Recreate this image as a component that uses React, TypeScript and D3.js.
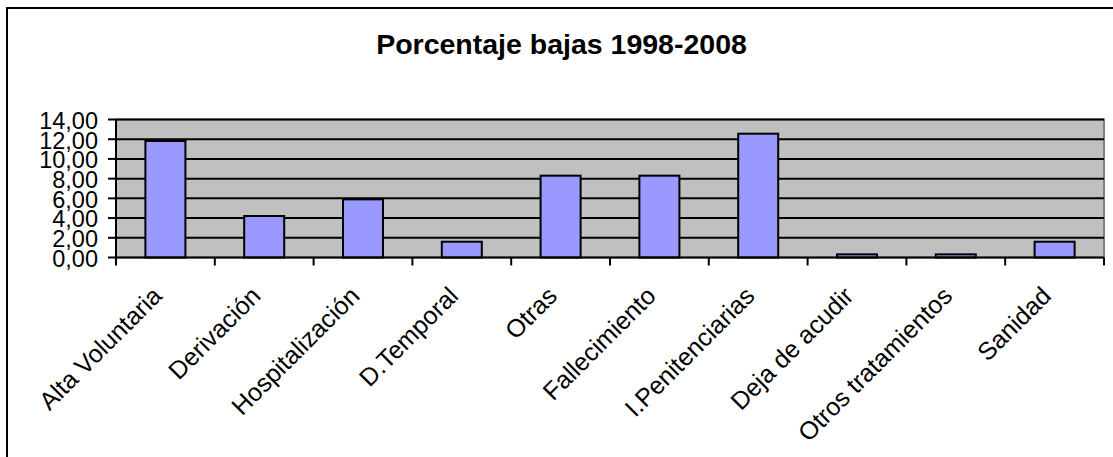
import React, { useEffect, useRef } from 'react';
import * as d3 from 'd3';

const categories = [
  'Alta Voluntaria',
  'Derivación',
  'Hospitalización',
  'D.Temporal',
  'Otras',
  'Fallecimiento',
  'I.Penitenciarias',
  'Deja de acudir',
  'Otros tratamientos',
  'Sanidad',
];
const values = [11.82, 4.21, 5.9, 1.6, 8.3, 8.3, 12.56, 0.32, 0.32, 1.6];
const yTicks = [0, 2, 4, 6, 8, 10, 12, 14];
const title = 'Porcentaje bajas 1998-2008';

const App = () => {
  const svgRef = useRef<SVGSVGElement>(null);

  useEffect(() => {
    const svg = d3.select(svgRef.current);
    svg.selectAll('*').remove();

    const left = 116;
    const right = 1104;
    const top = 119.5;
    const bottom = 257.5;

    // outer frame
    svg.append('rect')
      .attr('x', 7).attr('y', 8)
      .attr('width', 1130).attr('height', 480)
      .attr('fill', 'white')
      .attr('stroke', '#000').attr('stroke-width', 2);

    svg.append('text')
      .attr('x', 561.5).attr('y', 54)
      .attr('text-anchor', 'middle')
      .style('font-family', 'Arial, "Liberation Sans", sans-serif')
      .style('font-weight', 'bold')
      .style('font-size', '28.5px')
      .text(title);

    const x = d3.scaleBand<string>()
      .domain(categories)
      .range([left, right])
      .paddingInner(0.595)
      .paddingOuter(0.2975);

    const y = d3.scaleLinear().domain([0, 14]).range([bottom, top]);

    // plot area
    svg.append('rect')
      .attr('x', left).attr('y', top)
      .attr('width', right - left).attr('height', bottom - top)
      .attr('fill', '#c0c0c0')
      .attr('stroke', '#808080').attr('stroke-width', 2);

    // gridlines
    svg.append('g')
      .selectAll('line')
      .data(yTicks.filter(d => d > 0))
      .join('line')
      .attr('x1', left).attr('x2', right)
      .attr('y1', d => y(d)).attr('y2', d => y(d))
      .attr('stroke', '#000').attr('stroke-width', 2);

    // bars
    svg.append('g')
      .selectAll('rect')
      .data(values)
      .join('rect')
      .attr('x', (d, i) => x(categories[i])!)
      .attr('width', x.bandwidth())
      .attr('y', d => y(d))
      .attr('height', d => bottom - y(d))
      .attr('fill', '#9999ff')
      .attr('stroke', '#000').attr('stroke-width', 2);

    // y axis
    const yAxis = svg.append('g');
    yAxis.append('line')
      .attr('x1', left).attr('x2', left)
      .attr('y1', top).attr('y2', bottom)
      .attr('stroke', '#000').attr('stroke-width', 2);
    yAxis.selectAll('line.tick')
      .data(yTicks)
      .join('line')
      .attr('class', 'tick')
      .attr('x1', left - 8).attr('x2', left)
      .attr('y1', d => y(d)).attr('y2', d => y(d))
      .attr('stroke', '#000').attr('stroke-width', 2);
    yAxis.selectAll('text')
      .data(yTicks)
      .join('text')
      .attr('x', 98)
      .attr('y', d => y(d))
      .attr('dy', '0.4em')
      .attr('text-anchor', 'end')
      .style('font-family', 'Arial, "Liberation Sans", sans-serif')
      .style('font-size', '23.5px')
      .text(d => d3.format('.2f')(d).replace('.', ','));

    // x axis
    const step = x.step();
    const xAxis = svg.append('g');
    xAxis.append('line')
      .attr('x1', left).attr('x2', right)
      .attr('y1', bottom).attr('y2', bottom)
      .attr('stroke', '#000').attr('stroke-width', 2);
    xAxis.selectAll('line.tick')
      .data(d3.range(categories.length + 1))
      .join('line')
      .attr('class', 'tick')
      .attr('x1', i => left + i * step).attr('x2', i => left + i * step)
      .attr('y1', bottom).attr('y2', bottom + 8)
      .attr('stroke', '#000').attr('stroke-width', 2);
    xAxis.selectAll('text')
      .data(categories)
      .join('text')
      .attr('transform', d => `translate(${x(d)! + x.bandwidth() / 2 - 2},${bottom + 40}) rotate(-45)`)
      .attr('text-anchor', 'end')
      .style('font-family', 'Arial, "Liberation Sans", sans-serif')
      .style('font-size', '25px')
      .text(d => d);
  }, []);

  return (
    <svg
      ref={svgRef}
      width={1113}
      height={457}
      style={{ position: 'absolute', left: 0, top: 0, display: 'block', background: 'white' }}
    />
  );
};

export default App;
